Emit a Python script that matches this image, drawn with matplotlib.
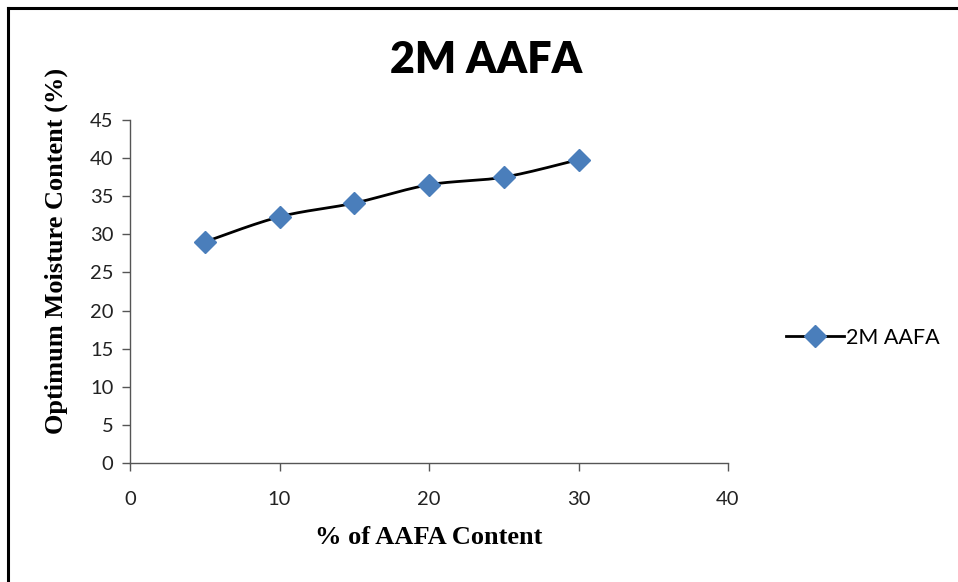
import numpy as np
import matplotlib
matplotlib.use("Agg")
import matplotlib.pyplot as plt
from matplotlib.lines import Line2D

# Data
aafa_content = [5, 10, 15, 20, 25, 30]
moisture = [29.0, 32.3, 34.1, 36.5, 37.5, 39.8]
series_name = "2M AAFA"
title = "2M AAFA"
x_ticks = [0, 10, 20, 30, 40]
y_ticks = [0, 5, 10, 15, 20, 25, 30, 35, 40, 45]


def smooth_curve(x, y, steps=30, tension=1 / 6):
    """Catmull-Rom style smoothed line through the points."""
    x = np.asarray(x, float)
    y = np.asarray(y, float)
    px = np.concatenate([[x[0]], x, [x[-1]]])
    py = np.concatenate([[y[0]], y, [y[-1]]])
    xs, ys = [], []
    t = np.linspace(0, 1, steps)
    for i in range(1, len(px) - 2):
        p0 = np.array([px[i], py[i]])
        p3 = np.array([px[i + 1], py[i + 1]])
        p1 = p0 + (np.array([px[i + 1], py[i + 1]]) - np.array([px[i - 1], py[i - 1]])) * tension
        p2 = p3 - (np.array([px[i + 2], py[i + 2]]) - np.array([px[i], py[i]])) * tension
        b = (((1 - t) ** 3)[:, None] * p0 + (3 * (1 - t) ** 2 * t)[:, None] * p1
             + (3 * (1 - t) * t ** 2)[:, None] * p2 + (t ** 3)[:, None] * p3)
        xs.extend(b[:, 0])
        ys.extend(b[:, 1])
    return np.array(xs), np.array(ys)


W, H = 958, 582
fig = plt.figure(figsize=(W / 100, H / 100), dpi=100)
ax = fig.add_axes([130 / W, 1 - 463 / H, (728 - 130) / W, (463 - 120) / H])

blue = "#4A7EBB"
sx, sy = smooth_curve(aafa_content, moisture)
ax.plot(sx, sy, color="black", lw=2.0, zorder=2)
ax.plot(aafa_content, moisture, ls="none", marker="D", ms=11, color=blue,
        markeredgecolor=blue, zorder=3)

ax.set_xlim(0, 40)
ax.set_ylim(0, 45)
ax.set_xticks(x_ticks)
ax.set_yticks(y_ticks)
tick_font = ["Lato", "DejaVu Sans"]
for lab in ax.get_xticklabels() + ax.get_yticklabels():
    lab.set_family(tick_font)
    lab.set_fontsize(14.5)
    lab.set_color("#222222")
ax.tick_params(axis="both", direction="out", length=6, width=1, color="#555555")
ax.tick_params(axis="x", pad=14)
ax.tick_params(axis="y", pad=6)
for s in ("top", "right"):
    ax.spines[s].set_visible(False)
for s in ("left", "bottom"):
    ax.spines[s].set_color("#555555")
    ax.spines[s].set_linewidth(1)

serif = ["Liberation Serif", "DejaVu Serif"]
ax.set_xlabel("% of AAFA Content", family=serif, fontweight="bold", fontsize=19, labelpad=13)
ax.set_ylabel("Optimum Moisture Content (%)", family=serif, fontweight="bold", fontsize=19)
ax.yaxis.set_label_coords(-0.104, 0.617)

fig.text(486 / W, 1 - 60 / H, title, ha="center", va="center",
         family=["Lato", "DejaVu Sans"], fontweight="heavy", fontsize=31)

# Legend
handle = Line2D([], [], color="black", lw=2, marker="D", ms=11,
                markerfacecolor=blue, markeredgecolor=blue)
fig.legend([handle], [series_name], loc="center left",
           bbox_to_anchor=(775 / W, 1 - 338 / H), frameon=False,
           prop={"family": ["Lato", "DejaVu Sans"], "size": 15.5},
           handlelength=2.7, handletextpad=0.1, borderpad=0)

# Outer frame (left and top edges)
fig.add_artist(Line2D([8 / W, 8 / W], [0, 1 - 8 / H], transform=fig.transFigure,
                      color="black", lw=2.2, solid_capstyle="projecting"))
fig.add_artist(Line2D([8 / W, 1], [1 - 8 / H, 1 - 8 / H], transform=fig.transFigure,
                      color="black", lw=2.2, solid_capstyle="projecting"))

fig.savefig("out.png", dpi=100)
